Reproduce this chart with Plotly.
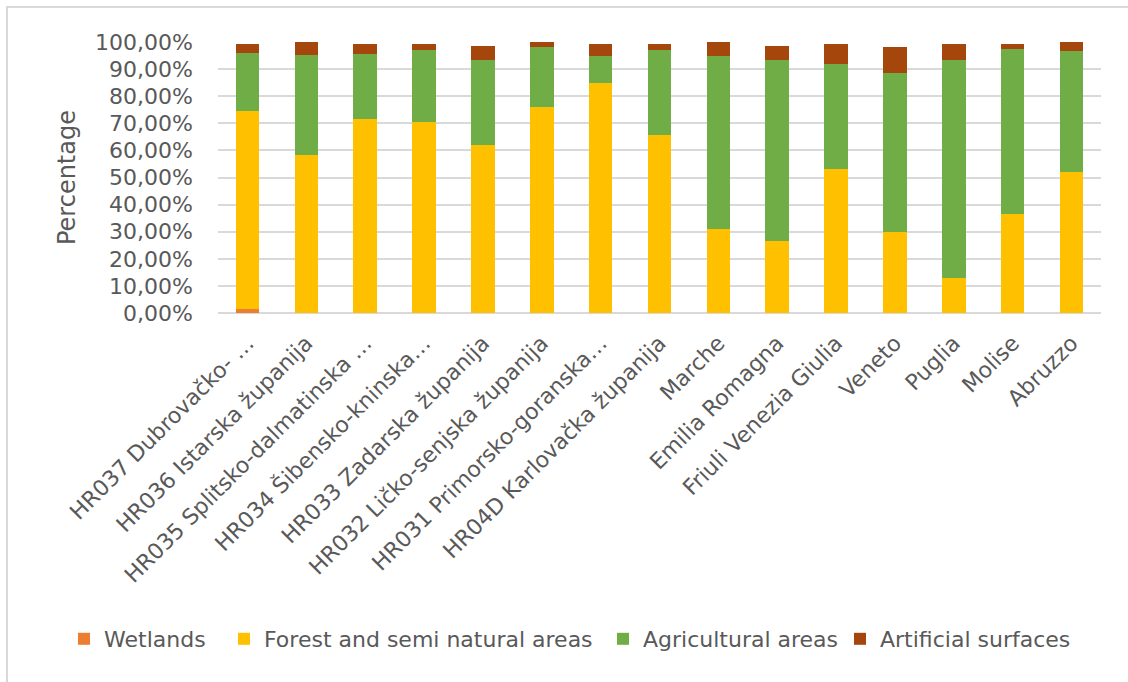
import plotly.graph_objects as go

categories = [
    "HR037 Dubrovačko- …",
    "HR036 Istarska županija",
    "HR035 Splitsko-dalmatinska …",
    "HR034 Šibensko-kninska…",
    "HR033 Zadarska županija",
    "HR032 Ličko-senjska županija",
    "HR031 Primorsko-goranska…",
    "HR04D Karlovačka županija",
    "Marche",
    "Emilia Romagna",
    "Friuli Venezia Giulia",
    "Veneto",
    "Puglia",
    "Molise",
    "Abruzzo",
]
wetlands = [1.3, 0, 0, 0, 0, 0, 0, 0, 0, 0, 0, 0, 0, 0, 0]
forest = [73.3, 58.3, 71.6, 70.4, 62.0, 76.1, 85.0, 65.8, 31.1, 26.6, 53.0, 30.0, 12.9, 36.5, 51.9]
agricultural = [21.3, 36.9, 23.8, 26.5, 31.5, 22.1, 9.7, 31.1, 63.6, 66.7, 38.8, 58.4, 80.6, 61.1, 44.6]
artificial = [3.5, 4.7, 3.8, 2.3, 5.2, 1.7, 4.7, 2.5, 5.2, 5.4, 7.6, 9.8, 5.7, 1.6, 3.4]

tick_vals = [0, 10, 20, 30, 40, 50, 60, 70, 80, 90, 100]
tick_text = ["0,00%", "10,00%", "20,00%", "30,00%", "40,00%", "50,00%",
             "60,00%", "70,00%", "80,00%", "90,00%", "100,00%"]

series_names = ["Wetlands", "Forest and semi natural areas", "Agricultural areas", "Artificial surfaces"]
series_values = [wetlands, forest, agricultural, artificial]
series_colors = ["#ED7D31", "#FFC000", "#70AD47", "#A5460D"]
legend_widths = [115, 334, 192, 210]

W, H = 1128, 682
ML, MR, MT, MB = 218, 27, 42, 369
PW = W - ML - MR
PH = H - MT - MB

FONT = "DejaVu Sans"
GRAY = "#595959"

fig = go.Figure()
for name, vals, color, lw in zip(series_names, series_values, series_colors, legend_widths):
    fig.add_trace(go.Bar(x=categories, y=vals, name=name, legendwidth=lw,
                         marker=dict(color=color, line=dict(width=0))))

def px_x(px):
    return (px - ML) / PW

def px_y(py):
    return (H - MB - py) / PH

border = "#D9D9D9"
fig.update_layout(
    width=W, height=H,
    margin=dict(l=ML, r=MR, t=MT, b=MB, autoexpand=False),
    barmode="stack",
    bargap=0.6,
    plot_bgcolor="white",
    paper_bgcolor="white",
    font=dict(family=FONT, color=GRAY, size=22),
    showlegend=True,
    legend=dict(
        orientation="h", x=px_x(64), xanchor="left", y=px_y(639), yanchor="middle",
        traceorder="normal", font=dict(size=22, color=GRAY), itemwidth=30,
        bgcolor="rgba(0,0,0,0)",
    ),
    xaxis=dict(
        tickangle=-45, showgrid=False, showline=False, ticks="",
        ticklabelstandoff=12,
        tickfont=dict(size=22, color=GRAY), fixedrange=True,
    ),
    yaxis=dict(
        range=[0, 100], tickvals=tick_vals, ticktext=tick_text,
        showgrid=True, gridcolor="#D9D9D9", gridwidth=1.5,
        zeroline=True, zerolinecolor="#D9D9D9", zerolinewidth=1.5,
        showline=False, ticks="", ticklabelstandoff=24,
        tickfont=dict(size=22, color=GRAY),
        title=dict(text="Percentage", font=dict(size=24, color=GRAY), standoff=12),
    ),
    shapes=[
        dict(type="line", xref="paper", yref="paper",
             x0=px_x(7), x1=px_x(7), y0=px_y(6), y1=px_y(720),
             line=dict(color=border, width=2)),
        dict(type="line", xref="paper", yref="paper",
             x0=px_x(6), x1=px_x(1160), y0=px_y(7), y1=px_y(7),
             line=dict(color=border, width=2)),
    ],
)

fig.write_html("out.html")
